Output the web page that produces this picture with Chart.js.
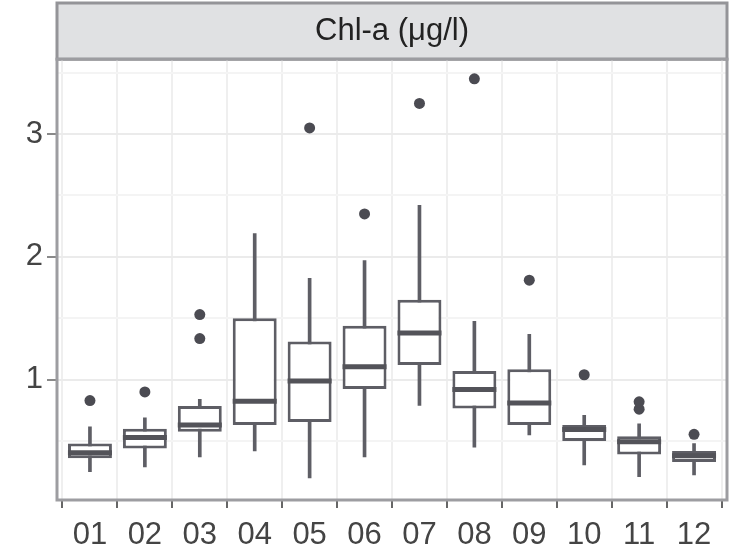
<!DOCTYPE html>
<html>
<head>
<meta charset="utf-8">
<script src="https://cdn.jsdelivr.net/npm/chart.js@4"></script>
<style>
  html,body{margin:0;padding:0;background:#fff;}
  #wrap{width:729px;height:553px;}
</style>
</head>
<body>
<div id="wrap"><canvas id="chart" width="729" height="553"></canvas></div>
<script>
// DATA
const months = ['01','02','03','04','05','06','07','08','09','10','11','12'];
const whiskLo = [0.25, 0.29, 0.37, 0.42, 0.20, 0.37, 0.79, 0.45, 0.55, 0.305, 0.21, 0.225];
const q1      = [0.36, 0.44, 0.575, 0.63, 0.655, 0.925, 1.12, 0.765, 0.63, 0.50, 0.39, 0.33];
const median  = [0.405, 0.53, 0.63, 0.825, 0.99, 1.105, 1.38, 0.92, 0.81, 0.595, 0.495, 0.38];
const q3      = [0.48, 0.60, 0.785, 1.50, 1.31, 1.44, 1.65, 1.07, 1.085, 0.63, 0.54, 0.42];
const whiskHi = [0.615, 0.69, 0.84, 2.19, 1.825, 1.97, 2.42, 1.475, 1.37, 0.71, 0.64, 0.48];
const outliers = [[0.83],[0.90],[1.335,1.53],[],[3.05],[2.35],[3.25],[3.45],[1.81],[1.04],[0.76,0.82],[0.555]];
const yTicks = [0.5, 1, 1.5, 2, 2.5, 3, 3.5];
const yMin = 0.02, yMax = 3.61;
const stripTitle = 'Chl-a (μg/l)';

const FONT = "'Liberation Sans', Arial, sans-serif";
const boxLine = '#5e5e65';
const dark = '#4b4b52';

const whiskerData = months.map((m,i)=>({x:i+1, y:[whiskLo[i], whiskHi[i]]}));
const boxData = months.map((m,i)=>({x:i+1, y:[q1[i], q3[i]]}));
const medianData = months.map((m,i)=>({x:i+1, y:median[i]}));
const outlierData = [];
outliers.forEach((list,i)=>list.forEach(v=>outlierData.push({x:i+1, y:v})));

// strip + panel border
const panelPlugin = {
  id:'panel',
  beforeDraw(chart){
    const c = chart.ctx, a = chart.chartArea, t = chart.titleBlock;
    c.save();
    c.fillStyle = '#fff';
    c.fillRect(0,0,chart.width,chart.height);
    c.fillStyle = '#e0e1e3';
    c.fillRect(a.left, t.top, a.right-a.left, t.bottom-t.top);
    c.strokeStyle = '#949498';
    c.lineWidth = 3;
    c.strokeRect(a.left, t.top, a.right-a.left, t.bottom-t.top);
    c.restore();
  },
  afterDatasetsDraw(chart){
    const c = chart.ctx, a = chart.chartArea;
    c.save();
    c.strokeStyle = '#9d9da1';
    c.lineWidth = 3;
    c.strokeRect(a.left, a.top, a.right-a.left, a.bottom-a.top);
    c.restore();
  }
};

new Chart(document.getElementById('chart').getContext('2d'),{
  type:'bar',
  data:{
    datasets:[
      {type:'line', label:'outliers', data:outlierData, showLine:false, order:0,
       pointStyle:'circle', pointRadius:5.5, pointBackgroundColor:dark, pointBorderWidth:0},
      {type:'line', label:'median', data:medianData, showLine:false, order:1,
       pointStyle:'line', pointRadius:22, pointBorderColor:'#535359', pointBorderWidth:5},
      {label:'box', data:boxData, order:2, grouped:false, backgroundColor:'#fff',
       borderColor:boxLine, borderWidth:3, borderSkipped:false, barPercentage:0.8, categoryPercentage:1},
      {label:'whisker', data:whiskerData, order:3, grouped:false, backgroundColor:boxLine,
       borderWidth:0, barThickness:3}
    ]
  },
  options:{
    responsive:false, animation:false, devicePixelRatio:1,
    layout:{autoPadding:false, padding:{top:3,right:2,left:0,bottom:0}},
    plugins:{
      legend:{display:false}, tooltip:{enabled:false},
      title:{display:true, text:stripTitle, fullSize:false, color:'#222',
        font:{family:FONT, size:31, weight:'normal'}, padding:{top:10,bottom:9}}
    },
    scales:{
      x:{type:'linear', min:0.4, max:12.6, offset:false,
        afterBuildTicks:s=>{ s.ticks = months.map((m,i)=>({value:i+1})); },
        afterFit:s=>{ s.height = 53; s.paddingLeft = 0; s.paddingRight = 0; },
        border:{display:false},
        grid:{color:'#efefef', lineWidth:2, tickColor:'#666', tickLength:8},
        ticks:{autoSkip:false, maxRotation:0, padding:9, color:'#444',
          font:{family:FONT, size:31}, callback:v=>months[Math.round(v)-1]}},
      y:{min:yMin, max:yMax,
        afterBuildTicks:s=>{ s.ticks = yTicks.map(v=>({value:v})); },
        afterFit:s=>{ s.width = 57; s.paddingTop = 0; s.paddingBottom = 0; },
        border:{display:false},
        grid:{lineWidth:2, tickLength:10,
          color:ctx=>Number.isInteger(ctx.tick.value)?'#ebebeb':'#f4f4f4',
          tickColor:ctx=>Number.isInteger(ctx.tick.value)?'#8a8a8a':'rgba(0,0,0,0)'},
        ticks:{padding:4, color:'#444', font:{family:FONT, size:31},
          callback:v=>Number.isInteger(v)?String(v):''}}
    }
  },
  plugins:[panelPlugin]
});
</script>
</body>
</html>
